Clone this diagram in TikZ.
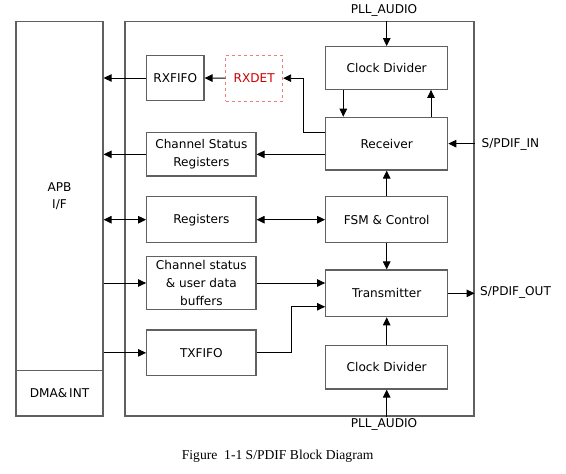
\documentclass[tikz,border=0pt]{standalone}
\usepackage{fontspec}
\setmainfont{DejaVu Sans}
\newfontfamily\capfont{Liberation Serif}
\usetikzlibrary{arrows.meta,calc}
\definecolor{boxgray}{HTML}{606060}
\definecolor{rxred}{HTML}{CC0000}
\definecolor{dashred}{HTML}{E88080}
\tikzset{
  x=1pt,y=-1pt,
  blk/.style={draw=boxgray,line width=1.2pt,rectangle,inner sep=0pt,align=center,
    font=\fontsize{12.1}{18.3}\selectfont},
  conn/.style={draw=black,line width=0.9pt,-{Triangle[length=8pt,width=7.5pt]}},
  biconn/.style={draw=black,line width=0.9pt,{Triangle[length=8pt,width=7.5pt]}-{Triangle[length=8pt,width=7.5pt]}},
  lbl/.style={inner sep=0pt,font=\fontsize{12.1}{14}\selectfont},
}
\begin{document}
\begin{tikzpicture}
\useasboundingbox (0,0) rectangle (566,474);
% outer frames
\node[blk,minimum width=87pt,minimum height=394.3pt] (apb) at (59.5,218.85) {};
\node[blk,minimum width=349pt,minimum height=394.3pt] (outer) at (299.5,218.85) {};
\coordinate (dmaL) at (16,370.7);
\coordinate (dmaR) at (103,370.7);
\draw[draw=boxgray,line width=1.2pt] (dmaL) -- (dmaR);
\node[lbl,align=center,font=\fontsize{12.1}{17}\selectfont] (apbtxt) at (59.5,196.5) {APB\\I/F};
\node[lbl] (dmatxt) at (59.5,393.5) {DMA\&\,INT};
% blocks
\node[blk,minimum width=57.3pt,minimum height=45.4pt] (rxf) at (175.35,78) {RXFIFO};
\node[blk,draw=dashred,line width=0.9pt,dashed,text=rxred,minimum width=57pt,minimum height=45.7pt] (rxd) at (254.2,78.15) {RXDET};
\node[blk,minimum width=122pt,minimum height=42.6pt] (cd1) at (386.7,68) {Clock Divider};
\node[blk,minimum width=122pt,minimum height=52.7pt] (rx) at (386.7,143.65) {Receiver};
\node[blk,minimum width=109.3pt,minimum height=43.3pt] (csr) at (201.35,154.35) {Channel Status\\Registers};
\node[blk,minimum width=109.3pt,minimum height=46pt] (reg) at (201.35,219.7) {Registers};
\node[blk,minimum width=122pt,minimum height=46pt] (fsm) at (386.7,219.7) {FSM \& Control};
\node[blk,minimum width=109.3pt,minimum height=52.6pt] (csud) at (201.35,283) {Channel status\\\& user data\\buffers};
\node[blk,minimum width=122pt,minimum height=46.7pt] (tx) at (386.7,293.35) {Transmitter};
\node[blk,minimum width=109.3pt,minimum height=45.7pt] (txf) at (201.35,352.85) {TXFIFO};
\node[blk,minimum width=122pt,minimum height=43.3pt] (cd2) at (386.7,367.35) {Clock Divider};
% external labels
\node[lbl] (plltop) at (384,10.7) {PLL\_AUDIO};
\node[lbl] (pllbot) at (384,424) {PLL\_AUDIO};
\node[lbl,anchor=west] (spin) at (481.5,144.3) {S/PDIF\_IN};
\node[lbl,anchor=west] (spout) at (480,292.7) {S/PDIF\_OUT};
\node[inner sep=0pt,font=\capfont\fontsize{13.6}{15}\selectfont,anchor=west] (cap) at (181.7,456) {Figure\ \ 1-1 S/PDIF Block Diagram};
% connectors
\draw[conn] (cd1.north |- outer.north) -- (cd1.north);
\draw[conn] ($(cd1.south)+(-43.4,0)$) -- ($(rx.north)+(-43.4,0)$);
\draw[conn] ($(rx.north)+(44.3,0)$) -- ($(cd1.south)+(44.3,0)$);
\draw[conn] (outer.east |- rx.east) -- (rx.east);
\draw[conn] ($(rx.north west)+(0,15.7)$) -| ($(rxd.east)+(20.6,0)$) -- (rxd.east);
\draw[conn] (rxd.west) -- (rxf.east);
\draw[conn] (rxf.west) -- (apb.east |- rxf.west);
\draw[conn] (rx.west |- csr.east) -- (csr.east);
\draw[conn] (csr.west) -- (apb.east |- csr.west);
\draw[biconn] (apb.east |- reg.west) -- (reg.west);
\draw[biconn] (reg.east) -- (fsm.west);
\draw[conn] (fsm.north) -- (rx.south);
\draw[conn] (fsm.south) -- (tx.north);
\draw[conn] (apb.east |- csud.west) -- (csud.west);
\draw[conn] (csud.east) -- (tx.west |- csud.east);
\draw[conn] (apb.east |- txf.west) -- (txf.west);
\draw[conn] (txf.east) -- ++(35,0) |- ($(tx.west)+(0,13.4)$);
\draw[conn] (tx.east) -- (outer.east |- tx.east);
\draw[conn] (cd2.north) -- (tx.south);
\draw[conn] (cd2.south |- outer.south) -- (cd2.south);
\end{tikzpicture}
\end{document}
